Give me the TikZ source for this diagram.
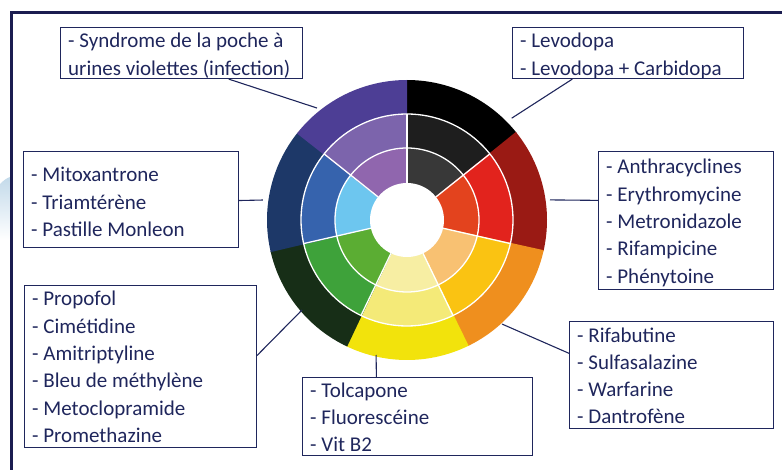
\documentclass[tikz,border=0pt]{standalone}
\usepackage{fontspec}
\setmainfont{Carlito}
\usetikzlibrary{calc}

\definecolor{frame}{HTML}{1B1D50}
\definecolor{ink}{HTML}{1F265C}
\definecolor{swoosh}{HTML}{C3DAEA}

\tikzset{
  box/.style={draw=ink, line width=1.1pt, anchor=north west, inner sep=0pt},
  item/.style={anchor=base west, inner sep=0pt, text=ink, font=\fontsize{21}{27}\selectfont},
  link/.style={draw=ink, line width=1.1pt},
}

% name, left, top, width, height, first baseline, lines
\newcommand{\drugbox}[7]{%
  \node[box, minimum width=#4pt, minimum height=#5pt] (#1) at (#2,-#3) {};
  \foreach \t [count=\i] in {#7}
    \node[item] (#1-\i) at ({#2+8},{-#6-27.3*(\i-1)}) {\t};
}

\begin{document}
\begin{tikzpicture}[x=1pt, y=1pt]
  \useasboundingbox (0,0) rectangle (782,-470);

  % background swoosh and frame
  \shade[top color=swoosh, bottom color=white]
    (0,-184) .. controls (4,-180) and (7,-178) .. (10,-177) -- (10,-240) -- (0,-240) -- cycle;
  \draw[frame, line width=3pt] (11,-475) -- (11,-13) -- (790,-13);

  % colour wheel
  \coordinate (c) at (407,-220);
  \foreach \co/\cm/\ci [count=\k from 0] in
      {000000/1E1E1E/383838, 9A1A14/E2231D/E3431E, EF8F1E/FAC312/F8C172,
       F2E30C/F4EA78/F7EEA3, 172E17/3EA23A/5BAD33, 1D3868/3663AD/6DC6EF,
       4D3E95/7C64AC/9066AE} {
    \definecolor{ringO}{HTML}{\co}
    \definecolor{ringM}{HTML}{\cm}
    \definecolor{ringI}{HTML}{\ci}
    \pgfmathsetmacro\a{90-\k*360/7+0.4}
    \pgfmathsetmacro\b{90-(\k+1)*360/7}
    \fill[ringO] (c) -- ($(c)+(\a:140pt)$) arc (\a:\b:140pt) -- cycle;
    \fill[ringM] (c) -- ($(c)+(\a:106pt)$) arc (\a:\b:106pt) -- cycle;
    \fill[ringI] (c) -- ($(c)+(\a:72pt)$) arc (\a:\b:72pt) -- cycle;
  }
  \fill[white] (c) circle (37pt);
  \draw[white, line width=1.3pt] (c) circle (106pt) (c) circle (72pt);
  \foreach \k in {0,...,6}
    \draw[white, line width=1.3pt] ($(c)+({90-\k*360/7}:37pt)$) -- ($(c)+({90-\k*360/7}:106pt)$);

  % boxes
  \drugbox{syn}{60}{27}{242}{51}{48}{- Syndrome de la poche à, urines violettes (infection)}
  \drugbox{levo}{512}{27}{231}{51}{48}{- Levodopa, - Levodopa + Carbidopa}
  \drugbox{mito}{23}{151}{215}{96}{182}{- Mitoxantrone, - Triamtérène, - Pastille Monleon}
  \drugbox{anth}{598}{151}{175}{138}{174}{- Anthracyclines, - Erythromycine, - Metronidazole, - Rifampicine, - Phénytoine}
  \drugbox{prop}{24}{285}{232}{162}{306}{- Propofol, - Cimétidine, - Amitriptyline, - Bleu de méthylène, - Metoclopramide, - Promethazine}
  \drugbox{tolc}{302}{377}{230}{78}{397}{- Tolcapone, - Fluorescéine, - Vit B2}
  \drugbox{rifa}{569}{321}{204}{107}{342}{- Rifabutine, - Sulfasalazine, - Warfarine, - Dantrofène}

  % points on the wheel
  \coordinate (p-syn)  at ($(c)+(128.8:143.7pt)$);
  \coordinate (p-levo) at ($(c)+(44.2:146pt)$);
  \coordinate (p-mito) at ($(c)+(172.1:145.4pt)$);
  \coordinate (p-anth) at ($(c)+(8:144.4pt)$);
  \coordinate (p-prop) at ($(c)+(220.6:138.3pt)$);
  \coordinate (p-tolc) at ($(c)+(257.1:138.5pt)$);
  \coordinate (p-rifa) at ($(c)+(-47.6:140.9pt)$);

  % connectors
  \draw[link] ($(syn.south west)!0.694!(syn.south east)$) -- (p-syn);
  \draw[link] ($(levo.south west)!0.26!(levo.south east)$) -- (p-levo);
  \draw[link] ($(mito.north east)!0.51!(mito.south east)$) -- (p-mito);
  \draw[link] ($(anth.north west)!0.355!(anth.south west)$) -- (p-anth);
  \draw[link] ($(prop.north east)!0.432!(prop.south east)$) -- (p-prop);
  \draw[link] ($(tolc.north west)!0.322!(tolc.north east)$) -- (p-tolc);
  \draw[link] ($(rifa.north west)!0.299!(rifa.south west)$) -- (p-rifa);
\end{tikzpicture}
\end{document}
